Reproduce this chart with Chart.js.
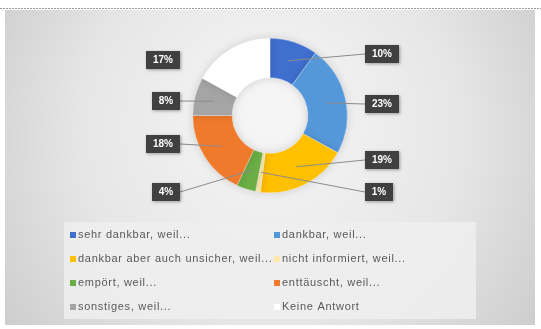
<!DOCTYPE html>
<html>
<head>
<meta charset="utf-8">
<script src="https://cdn.jsdelivr.net/npm/chart.js@4/dist/chart.umd.min.js"></script>
<style>
  html, body { margin: 0; padding: 0; background: #fff; }
  #wrap { width: 541px; height: 329px; position: relative; }
</style>
</head>
<body>
<div id="wrap"><canvas id="myChart" width="541" height="329"></canvas></div>
<script>
const categories = [
  'sehr dankbar, weil...',
  'dankbar, weil...',
  'dankbar aber auch unsicher, weil...',
  'nicht informiert, weil...',
  'empört, weil...',
  'enttäuscht, weil...',
  'sonstiges, weil...',
  'Keine Antwort'
];
const shares = [10, 23, 19, 1, 4, 18, 8, 17];
const colors = ['#3F6FCF', '#5598DA', '#FFC000', '#FFE9A8', '#6AAE45', '#EF7A2C', '#A5A5A5', '#FFFFFF'];

// percentage boxes: side of the ring, centre y, and whether a leader line is drawn
const labelSide = ['r', 'r', 'r', 'r', 'l', 'l', 'l', 'l'];
const labelRows = [54, 104, 160, 192, 192, 144, 101, 60];
const leaders = [true, true, true, true, true, true, true, false];

const backdrop = {
  id: 'backdrop',
  beforeDraw(chart) {
    const ctx = chart.ctx;
    ctx.save();
    ctx.fillStyle = '#ffffff';
    ctx.fillRect(0, 0, chart.width, chart.height);
    // dotted frame line
    ctx.strokeStyle = '#9a9a9a';
    ctx.setLineDash([2, 1]);
    ctx.beginPath();
    ctx.moveTo(0, 8.5);
    ctx.lineTo(chart.width, 8.5);
    ctx.stroke();
    ctx.setLineDash([]);
    // grey panel
    const g = ctx.createRadialGradient(270, 110, 20, 270, 150, 330);
    g.addColorStop(0, '#f5f5f5');
    g.addColorStop(0.55, '#e6e6e6');
    g.addColorStop(1, '#cbcbcb');
    ctx.fillStyle = g;
    ctx.fillRect(5, 10, 530, 315);
    // legend area
    ctx.fillStyle = 'rgba(238,238,238,0.85)';
    ctx.fillRect(64, 222, 412, 97);
    ctx.restore();
  }
};

const ringShadow = {
  id: 'ringShadow',
  beforeDatasetsDraw(chart) {
    const ctx = chart.ctx;
    ctx.save();
    ctx.shadowColor = 'rgba(0,0,0,0.15)';
    ctx.shadowBlur = 10;
  },
  afterDatasetsDraw(chart) {
    chart.ctx.restore();
  }
};

const valueBoxes = {
  id: 'valueBoxes',
  afterDatasetsDraw(chart) {
    const ctx = chart.ctx;
    const meta = chart.getDatasetMeta(0);
    ctx.save();
    ctx.font = 'bold 10px "Liberation Sans", Arial, sans-serif';
    ctx.textAlign = 'center';
    ctx.textBaseline = 'middle';
    meta.data.forEach((arc, i) => {
      const p = arc.tooltipPosition();
      const right = labelSide[i] === 'r';
      const text = shares[i] + '%';
      const w = text.length > 2 ? 34 : 28;
      const h = 18;
      const y = labelRows[i];
      const x0 = right ? 365 : 180 - w;
      if (leaders[i]) {
        ctx.strokeStyle = '#8c8c8c';
        ctx.lineWidth = 1;
        ctx.beginPath();
        ctx.moveTo(right ? x0 : x0 + w, y);
        ctx.lineTo(p.x, p.y);
        ctx.stroke();
      }
      ctx.shadowColor = 'rgba(0,0,0,0.35)';
      ctx.shadowBlur = 3;
      ctx.shadowOffsetX = 1;
      ctx.shadowOffsetY = 1;
      ctx.fillStyle = '#404040';
      ctx.fillRect(x0, y - h / 2, w, h);
      ctx.shadowColor = 'transparent';
      ctx.fillStyle = '#ffffff';
      ctx.fillText(text, x0 + w / 2, y + 0.5);
    });
    ctx.restore();
  }
};

const gridLegend = {
  id: 'gridLegend',
  afterDraw(chart) {
    const ctx = chart.ctx;
    const colX = [70, 274];
    const rowY = [235, 259, 283, 307];
    ctx.save();
    ctx.font = '11px "Liberation Sans", Arial, sans-serif';
    ctx.letterSpacing = '0.7px';
    ctx.textBaseline = 'middle';
    ctx.textAlign = 'left';
    categories.forEach((name, i) => {
      const x = colX[i % 2];
      const y = rowY[Math.floor(i / 2)];
      ctx.fillStyle = colors[i];
      ctx.fillRect(x, y - 3, 6, 6);
      ctx.fillStyle = '#595959';
      ctx.fillText(name, x + 8, y);
    });
    ctx.restore();
  }
};

const ctx = document.getElementById('myChart').getContext('2d');
const myChart = new Chart(ctx, {
  type: 'doughnut',
  data: {
    labels: categories,
    datasets: [{
      data: shares,
      backgroundColor: colors,
      borderColor: 'rgba(255,255,255,0.6)',
      borderWidth: 0.5
    }]
  },
  options: {
    responsive: false,
    animation: false,
    cutout: '49%',
    layout: { padding: { top: 38, bottom: 136, left: 0, right: 1 } },
    plugins: {
      legend: { display: false },
      tooltip: { enabled: false }
    }
  },
  plugins: [backdrop, ringShadow, valueBoxes, gridLegend]
});
</script>
</body>
</html>
